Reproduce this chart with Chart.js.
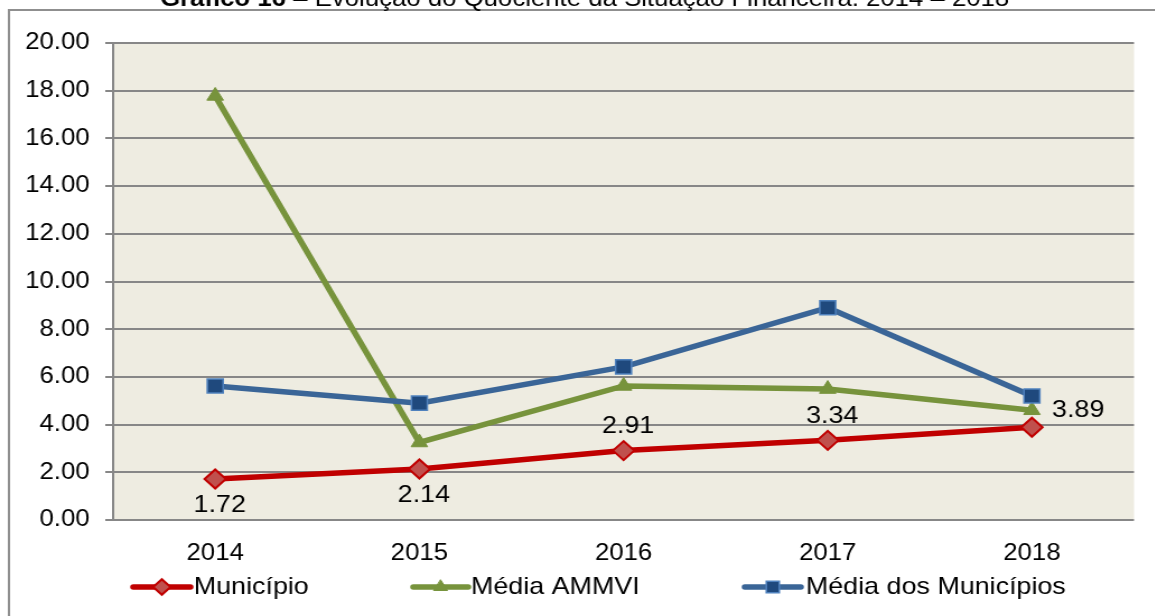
<!DOCTYPE html>
<html><head><meta charset="utf-8">
<script src="https://cdn.jsdelivr.net/npm/chart.js@4.4.1/dist/chart.umd.min.js"></script>
<style>
html,body{margin:0;padding:0;background:#fff;overflow:hidden;width:1155px;height:616px}
#wrap{position:absolute;left:0;top:0;width:1031px;height:616px;transform:scaleX(1.12);transform-origin:0 0}
</style></head><body>
<div id="wrap"><canvas id="c"></canvas></div>
<script>
const years = ['2014', '2015', '2016', '2017', '2018'];
const municipio = [1.72, 2.14, 2.91, 3.34, 3.89];
const mediaAmmvi = [17.78, 3.25, 5.62, 5.49, 4.60];
const mediaMunicipios = [5.62, 4.90, 6.42, 8.90, 5.20];
const yMin = 0, yMax = 20, yStep = 2;
const seriesNames = ['Município', 'Média AMMVI', 'Média dos Municípios'];
const titleBold = 'Gráfico 16';
const titleRest = ' – Evolução do Quociente da Situação Financeira: 2014 – 2018';

const FONT = '"Liberation Sans", Arial, sans-serif';
const GRID = '#878787';
const PLOT_BG = '#EEECE1';

const framePlugin = {
  id: 'frame',
  beforeDraw(chart) {
    const ctx = chart.ctx, a = chart.chartArea;
    ctx.save();
    ctx.fillStyle = '#fff';
    ctx.fillRect(0, 0, chart.width, chart.height);
    ctx.strokeStyle = '#8f8f8f'; ctx.lineWidth = 2;
    ctx.strokeRect(8, 10, chart.width + 20, chart.height + 20);
    ctx.fillStyle = PLOT_BG;
    ctx.fillRect(a.left, a.top, a.right - a.left, a.bottom - a.top);
    // title (partially cut at top)
    ctx.fillStyle = '#000';
    ctx.textBaseline = 'alphabetic';
    ctx.font = 'bold 23px ' + FONT;
    const wb = ctx.measureText(titleBold).width;
    ctx.font = '23px ' + FONT;
    const wr = ctx.measureText(titleRest).width;
    const x0 = 522 - (wb + wr) / 2;
    ctx.font = 'bold 23px ' + FONT;
    ctx.fillText(titleBold, x0, 6);
    ctx.font = '23px ' + FONT;
    ctx.fillText(titleRest, x0 + wb, 6);
    ctx.restore();
  }
};

const labelPlugin = {
  id: 'labels',
  afterDatasetsDraw(chart) {
    const ctx = chart.ctx;
    const meta = chart.getDatasetMeta(0);
    const place = ['below', 'below', 'above', 'above', 'right'];
    ctx.save();
    ctx.fillStyle = '#000';
    ctx.font = '24px ' + FONT;
    meta.data.forEach((pt, i) => {
      const v = chart.data.datasets[0].data[i].toFixed(2);
      const p = place[i];
      if (p === 'right') {
        ctx.textAlign = 'left'; ctx.textBaseline = 'middle';
        ctx.fillText(v, pt.x + 18, pt.y - 17);
      } else {
        ctx.textAlign = 'center'; ctx.textBaseline = 'middle';
        ctx.fillText(v, pt.x + 4, pt.y + (p === 'below' ? 26 : -24));
      }
    });
    ctx.restore();
  }
};

const legendPlugin = {
  id: 'customLegend',
  afterDraw(chart) {
    const ctx = chart.ctx;
    const y = 587;
    const items = [[119, 170, 173], [369, 418, 420.5], [665, 715, 719.5]];
    ctx.save();
    chart.data.datasets.forEach((ds, i) => {
      const [l0, l1, tx] = items[i];
      ctx.strokeStyle = ds.borderColor; ctx.lineWidth = ds.borderWidth;
      ctx.lineCap = 'round';
      ctx.beginPath(); ctx.moveTo(l0, y); ctx.lineTo(l1, y); ctx.stroke();
      ctx.fillStyle = ds.pointBackgroundColor; ctx.strokeStyle = ds.pointBorderColor;
      ctx.lineWidth = ds.pointBorderWidth;
      Chart.helpers.drawPoint(ctx, {pointStyle: ds.pointStyle, radius: ds.pointRadius * 0.82, rotation: 0, borderWidth: ds.pointBorderWidth}, (l0 + l1) / 2, y);
      ctx.fillStyle = '#000'; ctx.font = '24px ' + FONT;
      ctx.textAlign = 'left'; ctx.textBaseline = 'middle';
      ctx.fillText(ds.label, tx, y);
    });
    ctx.restore();
  }
};

new Chart(document.getElementById('c'), {
  type: 'line',
  data: {
    labels: years,
    datasets: [
      {label: seriesNames[0], data: municipio, borderColor: '#C00000', borderWidth: 5.5,
       pointStyle: 'rectRot', pointRadius: 9.5, pointBackgroundColor: '#C0504D', pointBorderColor: '#C00000', pointBorderWidth: 2, tension: 0, order: 3},
      {label: seriesNames[1], data: mediaAmmvi, borderColor: '#77933C', borderWidth: 5.5,
       pointStyle: 'triangle', pointRadius: 8.5, pointBackgroundColor: '#77933C', pointBorderColor: '#77933C', pointBorderWidth: 1, tension: 0, order: 2},
      {label: seriesNames[2], data: mediaMunicipios, borderColor: '#3A6597', borderWidth: 5.5,
       pointStyle: 'rect', pointRadius: 10, pointBackgroundColor: '#1F497D', pointBorderColor: '#4F81BD', pointBorderWidth: 1.5, tension: 0, order: 1}
    ]
  },
  options: {
    responsive: true,
    maintainAspectRatio: false,
    animation: false,
    devicePixelRatio: 1,
    layout: {padding: {top: 43, right: 18.5, left: 0, bottom: 0}},
    plugins: {legend: {display: false}, title: {display: false}, tooltip: {enabled: false}},
    scales: {
      x: {
        offset: true,
        grid: {display: false},
        border: {display: false},
        ticks: {color: '#000', font: {family: FONT, size: 23}, padding: 12},
        afterFit(s) { s.height = 96; }
      },
      y: {
        min: yMin, max: yMax,
        ticks: {stepSize: yStep, color: '#000', font: {family: FONT, size: 23}, padding: 14,
                callback: v => Number(v).toFixed(2)},
        grid: {color: GRID, lineWidth: 2, tickLength: 7, drawTicks: true},
        border: {display: true, color: GRID, width: 2},
        afterFit(s) { s.width = 101; }
      }
    }
  },
  plugins: [framePlugin, labelPlugin, legendPlugin]
});
</script>
</body></html>
